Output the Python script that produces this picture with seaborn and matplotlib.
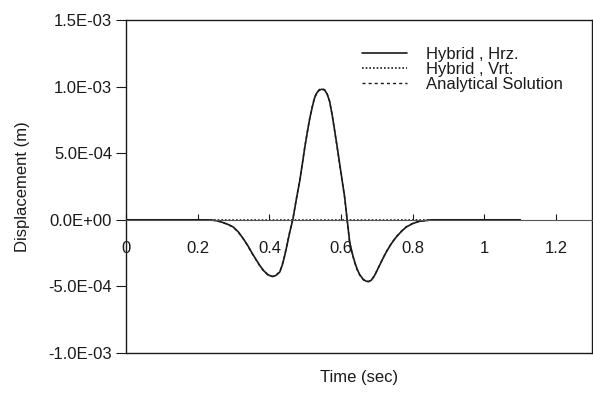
import numpy as np
import pandas as pd
import matplotlib
matplotlib.use("Agg")
import matplotlib.pyplot as plt
from matplotlib.lines import Line2D
from matplotlib.ticker import FixedLocator, FuncFormatter
import seaborn as sns

# Time samples (s)
time_s = [0.000, 0.100, 0.200, 0.234, 0.255, 0.271, 0.285, 0.299, 0.313,
          0.327, 0.339, 0.350, 0.362, 0.373, 0.385, 0.396, 0.404, 0.410,
          0.418, 0.429, 0.436, 0.443, 0.450, 0.457, 0.466, 0.475, 0.485,
          0.492, 0.499, 0.506, 0.513, 0.520, 0.526, 0.533, 0.540, 0.547,
          0.554, 0.561, 0.568, 0.575, 0.582, 0.589, 0.596, 0.603, 0.610,
          0.617, 0.624, 0.631, 0.638, 0.645, 0.652, 0.662, 0.670, 0.677,
          0.684, 0.693, 0.703, 0.714, 0.726, 0.740, 0.754, 0.768, 0.782,
          0.800, 0.819, 0.856, 0.900, 1.000, 1.100]

# Horizontal surface displacement, hybrid method (x1e-4 m)
hybrid_hrz_e4 = [0.00, 0.00, 0.00, -0.01, -0.08, -0.21, -0.35, -0.54, -0.90,
                 -1.41, -1.90, -2.42, -2.95, -3.42, -3.85, -4.12, -4.22, -4.25,
                 -4.18, -3.92, -3.40, -2.67, -1.80, -0.92, 0.09, 1.50, 2.97,
                 4.20, 5.47, 6.60, 7.65, 8.50, 9.15, 9.55, 9.75, 9.80,
                 9.74, 9.45, 8.90, 7.90, 6.72, 5.50, 4.22, 2.95, 1.71,
                 0.00, -1.67, -2.50, -3.17, -3.72, -4.12, -4.48, -4.61, -4.63,
                 -4.54, -4.20, -3.66, -3.05, -2.42, -1.80, -1.29, -0.88, -0.54,
                 -0.28, -0.11, 0.00, 0.00, 0.00, 0.00]

# Vertical surface displacement, hybrid method (x1e-4 m)
hybrid_vrt_e4 = [0.00] * len(time_s)

# Closed-form solution (x1e-4 m)
analytical_e4 = [0.00, 0.00, 0.00, -0.01, -0.08, -0.22, -0.36, -0.55, -0.92,
                 -1.43, -1.92, -2.45, -2.98, -3.45, -3.88, -4.14, -4.23, -4.26,
                 -4.17, -3.90, -3.36, -2.62, -1.74, -0.86, 0.15, 1.56, 3.02,
                 4.26, 5.52, 6.64, 7.70, 8.55, 9.20, 9.60, 9.79, 9.84,
                 9.77, 9.47, 8.88, 7.86, 6.66, 5.44, 4.16, 2.88, 1.64,
                 -0.06, -1.72, -2.55, -3.22, -3.76, -4.15, -4.50, -4.63, -4.64,
                 -4.55, -4.21, -3.66, -3.04, -2.40, -1.78, -1.27, -0.86, -0.52,
                 -0.27, -0.10, 0.00, 0.00, 0.00, 0.00]

x_ticks = [0, 0.2, 0.4, 0.6, 0.8, 1.0, 1.2]
x_tick_labels = ["0", "0.2", "0.4", "0.6", "0.8", "1", "1.2"]
y_ticks = [-1.0e-3, -5.0e-4, 0.0, 5.0e-4, 1.0e-3, 1.5e-3]

df = pd.DataFrame({
    "t": time_s,
    "hrz": np.array(hybrid_hrz_e4) * 1e-4,
    "vrt": np.array(hybrid_vrt_e4) * 1e-4,
    "ana": np.array(analytical_e4) * 1e-4,
})

sns.set_theme(style="white")
plt.rcParams["font.family"] = ["Liberation Sans", "DejaVu Sans"]

fig = plt.figure(figsize=(5.93, 3.94), dpi=100)
ax = fig.add_axes([126 / 593, 41 / 394, 466 / 593, 333 / 394])

ink = "#1a1a1a"
sns.lineplot(data=df, x="t", y="hrz", ax=ax, color=ink, lw=1.2,
             sort=False, label="Hybrid , Hrz.")
sns.lineplot(data=df, x="t", y="vrt", ax=ax, color=ink, lw=1.2,
             sort=False, label="Hybrid , Vrt.", linestyle=(0, (1, 1.2)))
sns.lineplot(data=df, x="t", y="ana", ax=ax, color=ink, lw=1.0,
             sort=False, label="Analytical Solution", linestyle=(0, (2.2, 2.2)))

ax.set_xlim(0, 1.3)
ax.set_ylim(-1.0e-3, 1.5e-3)

# horizontal axis crosses at zero; frame kept closed at the bottom
ax.spines["bottom"].set_position(("data", 0))
ax.spines["bottom"].set_linewidth(0.8)
ax.spines["bottom"].set_color("#555555")
for side in ("left", "right", "top"):
    ax.spines[side].set_color(ink)
    ax.spines[side].set_linewidth(1.0)
ax.add_line(Line2D([0, 1], [0, 0], transform=ax.transAxes, color=ink,
                   lw=1.0, clip_on=False))

ax.xaxis.set_major_locator(FixedLocator(x_ticks))
ax.set_xticklabels(x_tick_labels)
ax.yaxis.set_major_locator(FixedLocator(y_ticks))
ax.yaxis.set_major_formatter(FuncFormatter(lambda v, p: f"{v:.1E}"))

ax.tick_params(axis="x", direction="in", length=4, width=0.8, pad=15,
               labelsize=12, colors=ink, bottom=True)
ax.tick_params(axis="y", direction="out", length=7, width=0.8, pad=3,
               labelsize=12, colors=ink, left=True)

ax.set_xlabel("Time (sec)", fontsize=12, color=ink)
ax.set_ylabel("Displacement (m)", fontsize=12, color=ink)
ax.xaxis.set_label_coords(0.5, -0.052)
ax.yaxis.set_label_coords(-0.206, 0.5)

leg = ax.legend(loc="upper left", bbox_to_anchor=(0.493, 0.94), frameon=False,
                fontsize=12, handlelength=2.7, labelspacing=0.0,
                handletextpad=1.1, borderaxespad=0)
for t in leg.get_texts():
    t.set_color(ink)

fig.savefig("out.png", dpi=100)
